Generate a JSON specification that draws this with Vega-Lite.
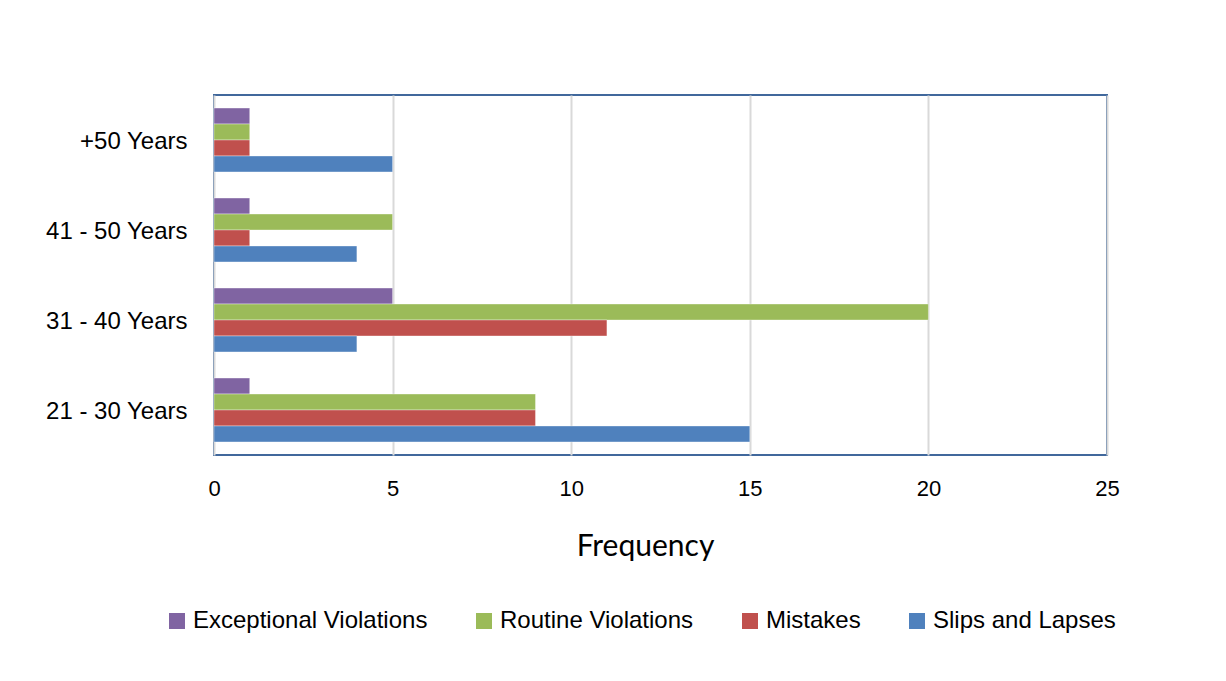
{
  "$schema": "https://vega.github.io/schema/vega-lite/v6.json",
  "width": 893,
  "height": 360,
  "autosize": {"type": "none"},
  "padding": {"left": 214, "top": 95, "right": 119, "bottom": 226},
  "background": "white",
  "data": {
    "values": [
      {"age": "+50 Years", "type": "Exceptional Violations", "frequency": 1},
      {"age": "+50 Years", "type": "Routine Violations", "frequency": 1},
      {"age": "+50 Years", "type": "Mistakes", "frequency": 1},
      {"age": "+50 Years", "type": "Slips and Lapses", "frequency": 5},
      {"age": "41 - 50 Years", "type": "Exceptional Violations", "frequency": 1},
      {"age": "41 - 50 Years", "type": "Routine Violations", "frequency": 5},
      {"age": "41 - 50 Years", "type": "Mistakes", "frequency": 1},
      {"age": "41 - 50 Years", "type": "Slips and Lapses", "frequency": 4},
      {"age": "31 - 40 Years", "type": "Exceptional Violations", "frequency": 5},
      {"age": "31 - 40 Years", "type": "Routine Violations", "frequency": 20},
      {"age": "31 - 40 Years", "type": "Mistakes", "frequency": 11},
      {"age": "31 - 40 Years", "type": "Slips and Lapses", "frequency": 4},
      {"age": "21 - 30 Years", "type": "Exceptional Violations", "frequency": 1},
      {"age": "21 - 30 Years", "type": "Routine Violations", "frequency": 9},
      {"age": "21 - 30 Years", "type": "Mistakes", "frequency": 9},
      {"age": "21 - 30 Years", "type": "Slips and Lapses", "frequency": 15}
    ]
  },
  "mark": {"type": "bar", "stroke": "#ffffff", "strokeWidth": 0.6, "strokeOpacity": 0.6},
  "encoding": {
    "y": {
      "field": "age",
      "type": "nominal",
      "sort": ["+50 Years", "41 - 50 Years", "31 - 40 Years", "21 - 30 Years"],
      "scale": {"paddingInner": 0.29, "paddingOuter": 0.145},
      "axis": {
        "title": null,
        "domain": false,
        "ticks": false,
        "grid": false,
        "labelFont": "Liberation Sans",
        "labelFontSize": 24,
        "labelColor": "#000000",
        "labelPadding": 27,
        "labelOffset": 2
      }
    },
    "yOffset": {
      "field": "type",
      "type": "nominal",
      "sort": ["Exceptional Violations", "Routine Violations", "Mistakes", "Slips and Lapses"],
      "scale": {"paddingInner": 0, "paddingOuter": 0}
    },
    "x": {
      "field": "frequency",
      "type": "quantitative",
      "scale": {"domain": [0, 25], "nice": false},
      "axis": {
        "title": "Frequency",
        "values": [0, 5, 10, 15, 20, 25],
        "domain": false,
        "ticks": false,
        "grid": true,
        "gridColor": "#D9D9D9",
        "gridWidth": 2,
        "labelFont": "Liberation Sans",
        "labelFontSize": 22,
        "labelColor": "#000000",
        "labelPadding": 23,
        "labelFlush": false,
        "titleFont": "Lato",
        "titleFontSize": 30,
        "titleFontWeight": "normal",
        "titleColor": "#000000",
        "titlePadding": 32,
        "titleX": 431,
        "titleAlign": "center"
      }
    },
    "color": {
      "field": "type",
      "type": "nominal",
      "sort": ["Exceptional Violations", "Routine Violations", "Mistakes", "Slips and Lapses"],
      "scale": {
        "domain": ["Exceptional Violations", "Routine Violations", "Mistakes", "Slips and Lapses"],
        "range": ["#8064A2", "#9BBB59", "#C0504D", "#4F81BD"]
      },
      "legend": {
        "title": null,
        "orient": "none",
        "direction": "horizontal",
        "legendX": -49,
        "legendY": 514,
        "padding": 0,
        "symbolType": "square",
        "symbolSize": 256,
        "symbolStrokeWidth": 0,
        "symbolOpacity": 1,
        "labelFont": "Liberation Sans",
        "labelFontSize": 24,
        "labelColor": "#000000",
        "labelOffset": 4,
        "labelLimit": 400,
        "columnPadding": 44
      }
    }
  },
  "config": {
    "view": {"stroke": "#41689C", "strokeWidth": 2}
  }
}
